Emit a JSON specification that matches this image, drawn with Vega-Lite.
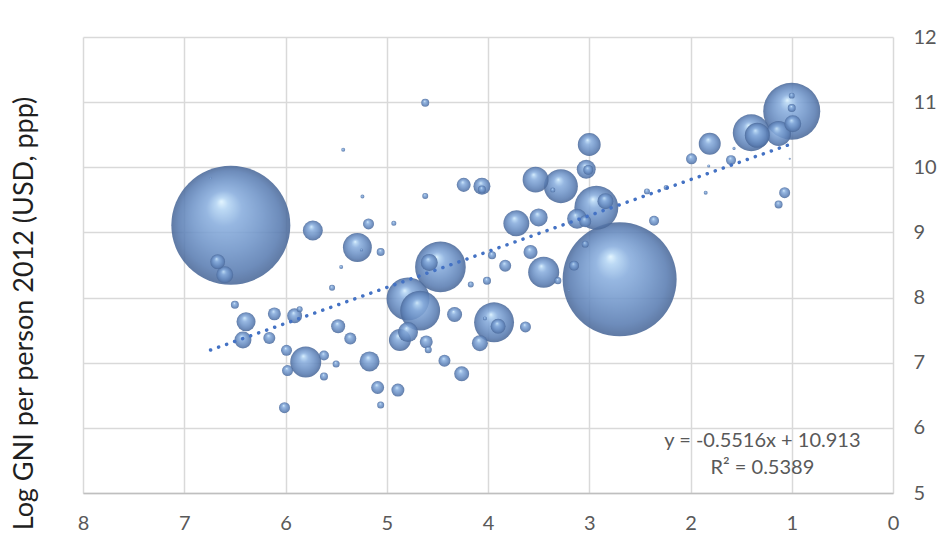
{
  "$schema": "https://vega.github.io/schema/vega-lite/v6.json",
  "width": 810,
  "height": 456,
  "autosize": "none",
  "padding": {"left": 83, "top": 37, "right": 49, "bottom": 53},
  "background": "white",
  "config": {"view": {"stroke": null}, "font": "Lato"},
  "encoding": {
    "x": {
      "field": "x", "type": "quantitative",
      "scale": {"domain": [0, 8], "reverse": true, "nice": false, "zero": false},
      "axis": {
        "values": [0, 1, 2, 3, 4, 5, 6, 7, 8], "format": "d", "title": null,
        "grid": true, "gridColor": "#d9d9d9", "gridWidth": 1.5,
        "domain": true, "domainColor": "#bfbfbf", "domainWidth": 1.5,
        "ticks": false, "tickSize": 0, "labelPadding": 30, "labelBaseline": "middle",
        "labelFontSize": 20, "labelColor": "#595959", "labelFlush": false, "labelOverlap": false
      }
    },
    "y": {
      "field": "y", "type": "quantitative",
      "scale": {"domain": [5, 12], "nice": false, "zero": false},
      "axis": {
        "orient": "right", "values": [5, 6, 7, 8, 9, 10, 11, 12], "format": "d",
        "grid": true, "gridColor": "#d9d9d9", "gridWidth": 1.5,
        "domain": false, "ticks": false, "tickSize": 0, "labelPadding": 20,
        "labelFontSize": 20, "labelColor": "#595959", "labelAlign": "left", "labelBaseline": "middle",
        "labelFlush": false, "labelOverlap": false,
        "title": "Log GNI per person 2012 (USD, ppp)", "titleFontSize": 27, "titleFontWeight": "normal",
        "titleColor": "#1f1f1f", "titleAngle": 270, "titleX": -869, "titleY": 276,
        "titleAlign": "center", "titleBaseline": "middle"
      }
    }
  },
  "layer": [
    {
      "data": {"values": [
        {"x": 6.54, "y": 9.11, "pop": 1350},
        {"x": 6.74, "y": 9.83, "pop": 0.4},
        {"x": 6.67, "y": 8.55, "pop": 21},
        {"x": 6.60, "y": 8.35, "pop": 27.5},
        {"x": 5.73, "y": 9.03, "pop": 38},
        {"x": 5.29, "y": 8.77, "pop": 80},
        {"x": 5.25, "y": 8.73, "pop": 0.9},
        {"x": 5.18, "y": 9.13, "pop": 11.5},
        {"x": 5.24, "y": 9.55, "pop": 1.5},
        {"x": 5.45, "y": 8.47, "pop": 1.5},
        {"x": 5.54, "y": 8.15, "pop": 3.4},
        {"x": 5.43, "y": 10.27, "pop": 1.5},
        {"x": 5.06, "y": 8.70, "pop": 6.1},
        {"x": 4.93, "y": 9.14, "pop": 2.4},
        {"x": 4.62, "y": 10.99, "pop": 6.1},
        {"x": 4.62, "y": 9.56, "pop": 3.4},
        {"x": 6.50, "y": 7.89, "pop": 6.1},
        {"x": 6.39, "y": 7.63, "pop": 34.4},
        {"x": 6.42, "y": 7.35, "pop": 27.5},
        {"x": 6.11, "y": 7.75, "pop": 16},
        {"x": 5.91, "y": 7.72, "pop": 21.4},
        {"x": 5.86, "y": 7.82, "pop": 3.4},
        {"x": 6.16, "y": 7.38, "pop": 13.7},
        {"x": 5.99, "y": 7.19, "pop": 11.5},
        {"x": 5.80, "y": 7.01, "pop": 91.6},
        {"x": 5.98, "y": 6.88, "pop": 11.5},
        {"x": 5.62, "y": 7.11, "pop": 9.5},
        {"x": 5.50, "y": 6.98, "pop": 4.7},
        {"x": 5.62, "y": 6.79, "pop": 6.1},
        {"x": 6.01, "y": 6.31, "pop": 11.5},
        {"x": 5.48, "y": 7.56, "pop": 18.7},
        {"x": 5.36, "y": 7.37, "pop": 13.7},
        {"x": 5.17, "y": 7.02, "pop": 38},
        {"x": 5.09, "y": 6.62, "pop": 16},
        {"x": 5.06, "y": 6.35, "pop": 4.7},
        {"x": 4.24, "y": 9.73, "pop": 18.7},
        {"x": 4.06, "y": 9.71, "pop": 27.5},
        {"x": 4.06, "y": 9.66, "pop": 6.1},
        {"x": 3.53, "y": 9.81, "pop": 64},
        {"x": 3.36, "y": 9.65, "pop": 2.4},
        {"x": 3.28, "y": 9.71, "pop": 110},
        {"x": 3.72, "y": 9.14, "pop": 64},
        {"x": 3.50, "y": 9.23, "pop": 31},
        {"x": 4.47, "y": 8.47, "pop": 245},
        {"x": 4.58, "y": 8.54, "pop": 27.5},
        {"x": 3.96, "y": 8.65, "pop": 6.1},
        {"x": 3.83, "y": 8.49, "pop": 13.7},
        {"x": 3.58, "y": 8.70, "pop": 18.7},
        {"x": 3.45, "y": 8.39, "pop": 92},
        {"x": 4.17, "y": 8.20, "pop": 3.4},
        {"x": 4.01, "y": 8.26, "pop": 6.1},
        {"x": 4.79, "y": 7.98, "pop": 176},
        {"x": 4.67, "y": 7.80, "pop": 152},
        {"x": 4.79, "y": 7.47, "pop": 38},
        {"x": 4.87, "y": 7.35, "pop": 46},
        {"x": 4.61, "y": 7.32, "pop": 16},
        {"x": 4.59, "y": 7.20, "pop": 4.7},
        {"x": 4.33, "y": 7.74, "pop": 21.4},
        {"x": 3.94, "y": 7.62, "pop": 152},
        {"x": 3.90, "y": 7.56, "pop": 21.4},
        {"x": 4.03, "y": 7.68, "pop": 1.5},
        {"x": 4.08, "y": 7.30, "pop": 24.4},
        {"x": 3.63, "y": 7.55, "pop": 11.5},
        {"x": 4.43, "y": 7.03, "pop": 13.7},
        {"x": 4.26, "y": 6.83, "pop": 21.4},
        {"x": 4.89, "y": 6.58, "pop": 16},
        {"x": 3.00, "y": 10.35, "pop": 50},
        {"x": 3.03, "y": 9.97, "pop": 34.4},
        {"x": 3.01, "y": 9.96, "pop": 9.5},
        {"x": 2.93, "y": 9.38, "pop": 184},
        {"x": 2.84, "y": 9.48, "pop": 24.4},
        {"x": 3.12, "y": 9.21, "pop": 38},
        {"x": 3.04, "y": 9.17, "pop": 13.7},
        {"x": 2.43, "y": 9.63, "pop": 3.4},
        {"x": 2.24, "y": 9.69, "pop": 2.4},
        {"x": 2.36, "y": 9.18, "pop": 9.5},
        {"x": 1.99, "y": 10.13, "pop": 11.5},
        {"x": 2.70, "y": 8.28, "pop": 1239},
        {"x": 3.04, "y": 8.82, "pop": 4.7},
        {"x": 3.15, "y": 8.49, "pop": 9.5},
        {"x": 3.20, "y": 8.11, "pop": 0.4},
        {"x": 3.31, "y": 8.26, "pop": 4.7},
        {"x": 1.00, "y": 10.86, "pop": 310},
        {"x": 1.00, "y": 11.10, "pop": 3.4},
        {"x": 1.00, "y": 10.91, "pop": 6.1},
        {"x": 0.99, "y": 10.67, "pop": 27.5},
        {"x": 1.13, "y": 10.52, "pop": 59.6},
        {"x": 1.40, "y": 10.53, "pop": 130},
        {"x": 1.34, "y": 10.49, "pop": 59.6},
        {"x": 1.81, "y": 10.36, "pop": 46},
        {"x": 1.60, "y": 10.11, "pop": 9.5},
        {"x": 1.57, "y": 10.29, "pop": 0.9},
        {"x": 1.82, "y": 10.02, "pop": 0.9},
        {"x": 1.02, "y": 10.13, "pop": 0.4},
        {"x": 1.07, "y": 9.61, "pop": 11.5},
        {"x": 1.13, "y": 9.43, "pop": 6.1},
        {"x": 1.85, "y": 9.61, "pop": 1.5}
      ]},
      "mark": {
        "type": "circle", "opacity": 0.88,
        "fill": {
          "gradient": "radial", "x1": 0.42, "y1": 0.3, "r1": 0, "x2": 0.5, "y2": 0.5, "r2": 0.5,
          "stops": [
            {"offset": 0, "color": "#dff4ff"},
            {"offset": 0.1, "color": "#b3d4f3"},
            {"offset": 0.3, "color": "#88addd"},
            {"offset": 0.6, "color": "#6f94c8"},
            {"offset": 0.85, "color": "#5a7db2"},
            {"offset": 1, "color": "#4a6898"}
          ]
        }
      },
      "encoding": {
        "size": {"field": "pop", "type": "quantitative", "scale": {"domain": [0, 1350], "range": [0, 14161]}, "legend": null},
        "order": {"field": "pop", "sort": "descending"}
      }
    },
    {
      "data": {"values": [
        {"x": 6.74, "y": 7.195},
        {"x": 0.99, "y": 10.367}
      ]},
      "mark": {"type": "line", "color": "#4472c4", "strokeWidth": 3.5, "strokeCap": "round", "strokeDash": [0.1, 8.4]},
      "encoding": {}
    },
    {
      "data": {"values": [
        {"x": 1.29, "y": 5.80, "t": "y = -0.5516x + 10.913"},
        {"x": 1.29, "y": 5.39, "t": "R² = 0.5389"}
      ]},
      "mark": {"type": "text", "fontSize": 20, "color": "#595959", "align": "center", "baseline": "middle"},
      "encoding": {"text": {"field": "t"}}
    }
  ]
}
